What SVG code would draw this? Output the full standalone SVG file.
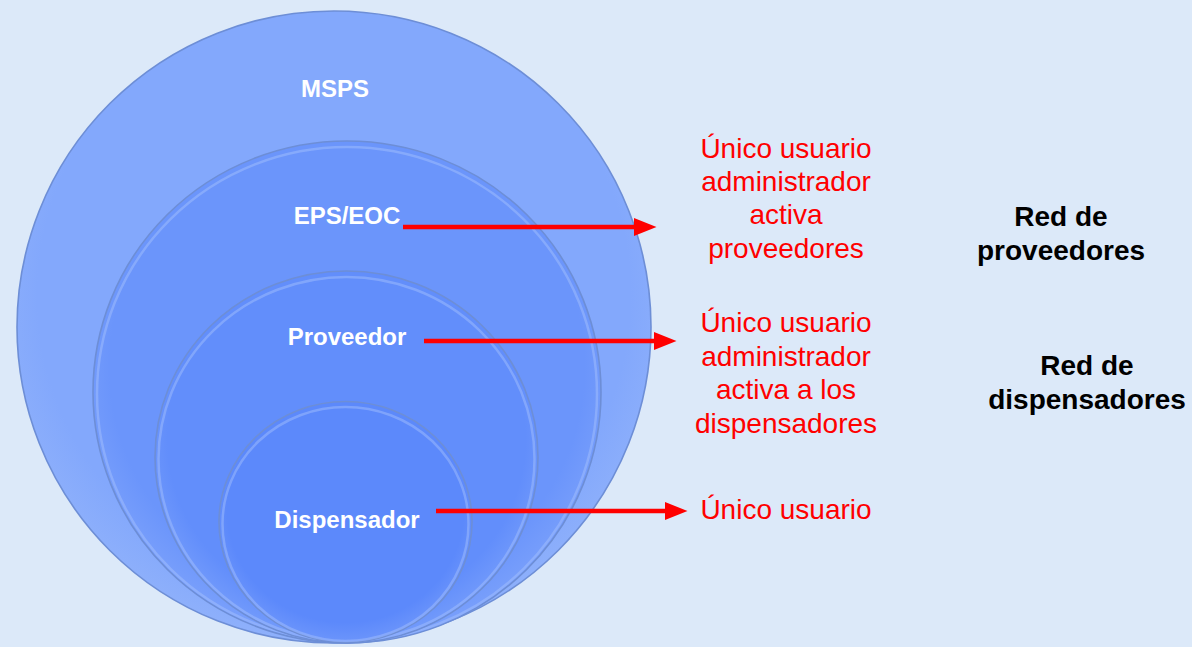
<svg xmlns="http://www.w3.org/2000/svg" width="1192" height="647" viewBox="0 0 1192 647">
<style>
  .lbl{font-family:"Liberation Sans",Arial,sans-serif;font-weight:bold;fill:#ffffff;font-size:24px;text-anchor:middle}
  .red{font-family:"Liberation Sans",Arial,sans-serif;fill:#ff0000;font-size:28px;text-anchor:middle}
  .blk{font-family:"Liberation Sans",Arial,sans-serif;font-weight:bold;fill:#000000;font-size:28px;text-anchor:middle}
  .ring{stroke:#6d8ed6;stroke-width:1.6}
  .hi{fill:none;stroke:#a9c4fd;stroke-width:2.5;opacity:0.45}
  .conn{stroke:#ff0000;stroke-width:4.5;fill:none}
</style>
<defs>
  <radialGradient id="g1" cx="50%" cy="45%" r="55%">
    <stop offset="0.85" stop-color="#83a8fc"/>
    <stop offset="1" stop-color="#8eb0fb"/>
  </radialGradient>
  <radialGradient id="g2" cx="50%" cy="45%" r="55%">
    <stop offset="0.85" stop-color="#6b95fb"/>
    <stop offset="1" stop-color="#7aa0fb"/>
  </radialGradient>
  <radialGradient id="g3" cx="50%" cy="45%" r="55%">
    <stop offset="0.85" stop-color="#628efb"/>
    <stop offset="1" stop-color="#739bfb"/>
  </radialGradient>
  <radialGradient id="g4" cx="50%" cy="45%" r="55%">
    <stop offset="0.85" stop-color="#5c89fb"/>
    <stop offset="1" stop-color="#6c95fb"/>
  </radialGradient>
  <marker id="ah" markerWidth="5" markerHeight="4" refX="0" refY="2" orient="auto" markerUnits="strokeWidth">
    <path d="M0,0 L5,2 L0,4 Z" fill="#ff0000"/>
  </marker>
</defs>
<rect x="0" y="0" width="1192" height="647" fill="#dce9f9"/>
<g id="node-msps">
  <ellipse cx="334" cy="327" rx="317" ry="316" fill="url(#g1)" class="ring"/>
  <text class="lbl" x="335" y="97">MSPS</text>
</g>
<g id="node-eps">
  <ellipse cx="347" cy="392" rx="254" ry="251" fill="url(#g2)" class="ring"/>
  <ellipse cx="347" cy="394" rx="250" ry="247" class="hi"/>
  <text class="lbl" x="347" y="224">EPS/EOC</text>
</g>
<g id="node-proveedor">
  <ellipse cx="346.5" cy="457" rx="191.5" ry="186" fill="url(#g3)" class="ring"/>
  <ellipse cx="346.5" cy="459" rx="188" ry="182" class="hi"/>
  <text class="lbl" x="347" y="345">Proveedor</text>
</g>
<g id="node-dispensador">
  <ellipse cx="345.5" cy="522" rx="126.5" ry="120.5" fill="url(#g4)" class="ring"/>
  <ellipse cx="345.5" cy="524" rx="123" ry="117" class="hi"/>
  <text class="lbl" x="347" y="528">Dispensador</text>
</g>
<g id="connectors">
  <line class="conn" x1="403" y1="227" x2="634" y2="227" marker-end="url(#ah)"/>
  <line class="conn" x1="424" y1="341" x2="654" y2="341" marker-end="url(#ah)"/>
  <line class="conn" x1="436" y1="511" x2="665" y2="511" marker-end="url(#ah)"/>
</g>
<g id="note-eps">
  <text class="red" x="786" y="158">Único usuario</text>
  <text class="red" x="786" y="191">administrador</text>
  <text class="red" x="786" y="224">activa</text>
  <text class="red" x="786" y="258">proveedores</text>
</g>
<g id="note-proveedor">
  <text class="red" x="786" y="332">Único usuario</text>
  <text class="red" x="786" y="366">administrador</text>
  <text class="red" x="786" y="399">activa a los</text>
  <text class="red" x="786" y="433">dispensadores</text>
</g>
<g id="note-dispensador">
  <text class="red" x="786" y="519">Único usuario</text>
</g>
<g id="label-red-proveedores">
  <text class="blk" x="1061" y="226">Red de</text>
  <text class="blk" x="1061" y="260">proveedores</text>
</g>
<g id="label-red-dispensadores">
  <text class="blk" x="1087" y="375">Red de</text>
  <text class="blk" x="1087" y="409">dispensadores</text>
</g>
</svg>
